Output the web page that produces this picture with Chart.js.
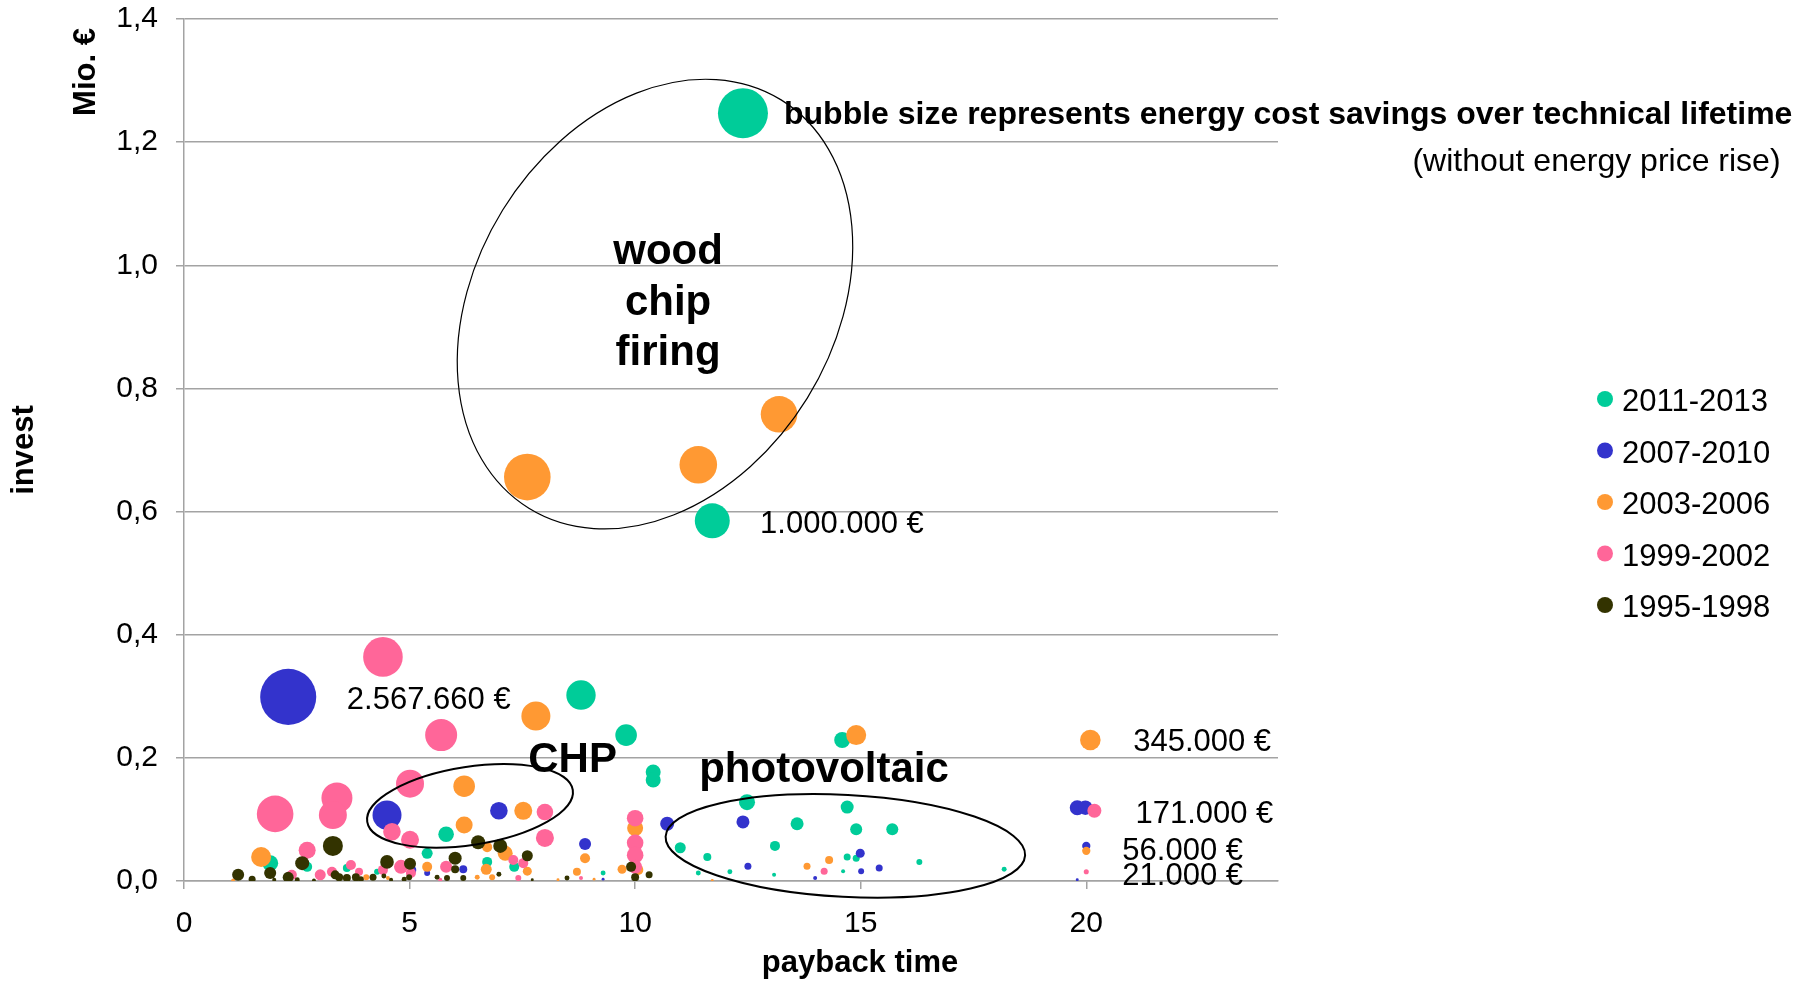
<!DOCTYPE html>
<html>
<head>
<meta charset="utf-8">
<script src="https://cdn.jsdelivr.net/npm/chart.js@4.4.0/dist/chart.umd.min.js"></script>
<style>
  html, body { margin: 0; padding: 0; background: #fff; }
  canvas { display: block; }
</style>
</head>
<body>
<canvas id="bubbleChart" width="1812" height="981"></canvas>
<script>
// construction periods
const seriesLabels = ['2011-2013', '2007-2010', '2003-2006', '1999-2002', '1995-1998'];
const seriesColors = ['#00cc99', '#3333cc', '#ff9933', '#ff6699', '#333300'];

// payback time in years, invest in Mio. €, energy cost savings in k€ (bubble size)
const payback2011 = [12.39, 11.71, 8.80, 9.80, 14.59, 10.40, 10.40, 12.48, 14.70, 13.59, 14.90, 15.70, 5.81, 11.00, 13.10, 11.60, 14.70, 14.90, 5.39, 1.91, 2.73, 6.72, 7.32, 3.61, 4.28, 16.30, 18.18, 11.40, 12.10, 13.08, 14.61, 9.29];
const invest2011  = [1.247, 0.585, 0.302, 0.237, 0.229, 0.177, 0.164, 0.128, 0.120, 0.093, 0.084, 0.084, 0.076, 0.054, 0.057, 0.039, 0.039, 0.037, 0.045, 0.029, 0.023, 0.031, 0.023, 0.021, 0.015, 0.031, 0.019, 0.013, 0.015, 0.010, 0.016, 0.013];
const savings2011 = [2041, 1000, 705, 381, 209, 184, 184, 209, 138, 138, 118, 118, 199, 99, 82, 52, 40, 40, 99, 209, 82, 82, 82, 52, 29, 29, 20, 20, 20, 13, 13, 20];

const payback2007 = [2.31, 4.50, 6.98, 8.89, 10.71, 12.39, 12.50, 14.99, 15.01, 15.41, 13.99, 19.80, 19.98, 20.00, 19.80, 6.19, 5.06, 5.39, 9.29];
const invest2007  = [0.299, 0.107, 0.114, 0.060, 0.093, 0.096, 0.024, 0.045, 0.016, 0.021, 0.005, 0.119, 0.119, 0.057, 0.002, 0.019, 0.018, 0.013, 0.003];
const savings2007 = [2567.66, 687, 253, 118, 160, 138, 40, 66, 29, 40, 13, 184, 171, 56, 7, 52, 52, 29, 7];

const payback2003 = [7.61, 11.40, 13.19, 7.80, 14.90, 20.09, 6.21, 7.52, 6.21, 1.71, 6.72, 7.12, 8.89, 5.39, 6.70, 7.61, 8.71, 10.00, 9.71, 10.07, 13.81, 14.30, 20.00, 4.04, 4.52, 6.83, 6.50, 1.09, 9.09, 8.29, 11.71];
const invest2003  = [0.656, 0.676, 0.758, 0.268, 0.237, 0.229, 0.154, 0.114, 0.091, 0.039, 0.055, 0.045, 0.037, 0.023, 0.019, 0.016, 0.015, 0.086, 0.019, 0.018, 0.024, 0.034, 0.049, 0.006, 0.005, 0.006, 0.006, 0.001, 0.003, 0.002, 0.001];
const savings2003 = [1773, 1154, 1094, 687, 327, 345, 381, 265, 236, 327, 82, 184, 82, 82, 99, 66, 52, 209, 66, 82, 40, 52, 56, 29, 13, 29, 20, 13, 7, 7, 7];

const payback1999 = [4.41, 5.70, 5.01, 3.39, 3.30, 2.02, 4.61, 8.00, 8.00, 5.01, 2.73, 4.81, 5.03, 5.81, 7.30, 7.52, 7.41, 10.00, 10.00, 10.00, 10.00, 20.18, 20.00, 14.19, 2.39, 3.02, 3.28, 3.70, 3.88, 4.41, 8.80, 5.68];
const invest1999  = [0.364, 0.237, 0.158, 0.135, 0.107, 0.109, 0.080, 0.112, 0.070, 0.067, 0.050, 0.023, 0.013, 0.023, 0.034, 0.029, 0.005, 0.102, 0.062, 0.042, 0.023, 0.114, 0.015, 0.016, 0.010, 0.010, 0.015, 0.026, 0.015, 0.018, 0.005, 0.002];
const savings1999 = [1280, 836, 640, 784, 640, 1094, 253, 225, 265, 265, 236, 160, 82, 118, 82, 82, 29, 225, 225, 225, 160, 160, 21, 40, 82, 99, 82, 82, 52, 82, 13, 13];

const payback1995 = [3.30, 6.52, 7.01, 2.62, 4.50, 5.01, 6.01, 7.61, 1.20, 1.51, 1.91, 2.00, 2.31, 2.51, 2.88, 3.35, 3.44, 3.61, 3.81, 3.92, 4.19, 4.43, 4.59, 4.88, 4.99, 6.01, 6.19, 5.83, 5.61, 6.98, 7.72, 8.49, 9.91, 10.00, 10.31];
const invest1995  = [0.057, 0.063, 0.057, 0.029, 0.031, 0.028, 0.037, 0.041, 0.010, 0.003, 0.013, 0.002, 0.006, 0.002, 0.001, 0.010, 0.006, 0.005, 0.006, 0.003, 0.006, 0.008, 0.002, 0.003, 0.006, 0.019, 0.005, 0.005, 0.006, 0.011, 0.002, 0.005, 0.023, 0.006, 0.010];
const savings1995 = [327, 160, 160, 160, 151, 118, 138, 99, 118, 40, 118, 13, 99, 20, 13, 66, 52, 52, 52, 29, 40, 20, 13, 20, 29, 52, 29, 29, 20, 20, 7, 20, 82, 52, 40];

const yTicks = [0, 0.2, 0.4, 0.6, 0.8, 1.0, 1.2, 1.4];
const xTicks = [0, 5, 10, 15, 20];

const FONT = "'Liberation Sans', Arial, sans-serif";

// bubble area proportional to savings (1.000.000 € -> radius 17.5 px)
function bubbleR(s) {
  return 17.5 * Math.sqrt(s / 1000);
}

function buildPoints(xs, ys, ss) {
  return xs.map((v, i) => ({ x: v, y: ys[i], r: bubbleR(ss[i]) }));
}

const allSeries = [
  buildPoints(payback2011, invest2011, savings2011),
  buildPoints(payback2007, invest2007, savings2007),
  buildPoints(payback2003, invest2003, savings2003),
  buildPoints(payback1999, invest1999, savings1999),
  buildPoints(payback1995, invest1995, savings1995)
];

const datasets = allSeries.map((pts, i) => ({
  label: seriesLabels[i],
  data: pts,
  backgroundColor: seriesColors[i],
  borderWidth: 0,
  hoverBorderWidth: 0,
  clip: 0,
  order: seriesLabels.length - i // older periods painted on top
}));

// ellipses, free text, legend and titles that Excel had on the slide
const overlayPlugin = {
  id: 'overlay',
  afterDraw(chart, args, opts) {
    const { ctx } = chart;
    const xs = chart.scales.x, ys = chart.scales.y;
    const dy = opts.textShift; // 'middle' sits a bit above the visual centre of the glyphs
    ctx.save();

    ctx.strokeStyle = '#000';
    opts.ellipses.forEach(e => {
      ctx.beginPath();
      ctx.lineWidth = e.lineWidth;
      ctx.ellipse(xs.getPixelForValue(e.x), ys.getPixelForValue(e.y), e.rx, e.ry,
        e.angle * Math.PI / 180, 0, Math.PI * 2);
      ctx.stroke();
    });

    ctx.fillStyle = '#000';
    ctx.textBaseline = 'middle';
    opts.labels.forEach(t => {
      ctx.font = t.font;
      ctx.textAlign = t.align || 'left';
      ctx.fillText(t.text, xs.getPixelForValue(t.x), ys.getPixelForValue(t.y) + dy);
    });

    // legend
    const lg = opts.legend;
    chart.data.datasets.forEach((ds, i) => {
      const cy = lg.top + i * lg.step;
      ctx.beginPath();
      ctx.fillStyle = ds.backgroundColor;
      ctx.arc(lg.x, cy, lg.r, 0, Math.PI * 2);
      ctx.fill();
      ctx.fillStyle = '#000';
      ctx.font = '31px ' + FONT;
      ctx.textAlign = 'left';
      ctx.fillText(ds.label, lg.x + 17, cy + dy);
    });

    // axis titles
    ctx.font = 'bold 31px ' + FONT;
    ctx.textAlign = 'center';
    ctx.fillText('payback time', opts.xTitle.x, opts.xTitle.y);
    ctx.translate(opts.unit.x, opts.unit.y);
    ctx.rotate(-Math.PI / 2);
    ctx.fillText('Mio. €', 0, 0);

    ctx.restore();
  }
};

const ctx = document.getElementById('bubbleChart').getContext('2d');
new Chart(ctx, {
  type: 'bubble',
  data: { datasets: datasets },
  options: {
    responsive: false,
    animation: false,
    layout: { autoPadding: false, padding: { top: 19, right: 534, left: 0, bottom: 0 } },
    plugins: {
      legend: { display: false },
      tooltip: { enabled: false },
      overlay: {
        textShift: 3.5,
        ellipses: [
          { x: 10.44, y: 0.937, rx: 240, ry: 179, angle: -58.3, lineWidth: 1.2 },
          { x: 6.34, y: 0.122, rx: 104, ry: 39, angle: -8.8, lineWidth: 2 },
          { x: 14.66, y: 0.057, rx: 180, ry: 51, angle: 3, lineWidth: 2 }
        ],
        labels: [
          { text: 'wood', x: 10.73, y: 1.026, font: 'bold 42px ' + FONT, align: 'center' },
          { text: 'chip', x: 10.73, y: 0.943, font: 'bold 42px ' + FONT, align: 'center' },
          { text: 'firing', x: 10.73, y: 0.862, font: 'bold 42px ' + FONT, align: 'center' },
          { text: 'CHP', x: 7.63, y: 0.201, font: 'bold 42px ' + FONT },
          { text: 'photovoltaic', x: 11.42, y: 0.185, font: 'bold 42px ' + FONT },
          { text: 'bubble size represents energy cost savings over technical lifetime', x: 13.30, y: 1.249, font: 'bold 32px ' + FONT },
          { text: '(without energy price rise)', x: 35.39, y: 1.173, font: '32px ' + FONT, align: 'right' },
          { text: '1.000.000 €', x: 12.77, y: 0.585, font: '31px ' + FONT },
          { text: '2.567.660 €', x: 3.61, y: 0.299, font: '31px ' + FONT },
          { text: '345.000 €', x: 21.04, y: 0.231, font: '31px ' + FONT },
          { text: '171.000 €', x: 21.09, y: 0.114, font: '31px ' + FONT },
          { text: '56.000 €', x: 20.80, y: 0.054, font: '31px ' + FONT },
          { text: '21.000 €', x: 20.80, y: 0.013, font: '31px ' + FONT }
        ],
        legend: { x: 1605, top: 399, step: 51.5, r: 8 },
        xTitle: { x: 860, y: 963 },
        unit: { x: 86, y: 72 }
      }
    },
    scales: {
      x: {
        type: 'linear',
        min: 0,
        max: 24.25,
        afterFit: s => { s.height = 100; s.paddingLeft = 0; s.paddingRight = 0; },
        afterBuildTicks: s => { s.ticks = xTicks.map(v => ({ value: v })); },
        grid: { drawOnChartArea: false, drawTicks: true, tickLength: 8, color: '#a3a3a3', lineWidth: 1.5 },
        border: { display: true, color: '#a3a3a3', width: 1.5 },
        ticks: { padding: 17, color: '#000', font: { family: FONT, size: 30 }, maxRotation: 0 }
      },
      y: {
        type: 'linear',
        min: 0,
        max: 1.4,
        afterFit: s => { s.width = 184; s.paddingTop = 0; s.paddingBottom = 0; },
        afterBuildTicks: s => { s.ticks = yTicks.map(v => ({ value: v })); },
        grid: { drawOnChartArea: true, drawTicks: true, tickLength: 8, color: '#a3a3a3', lineWidth: 1.5 },
        border: { display: true, color: '#a3a3a3', width: 1.5 },
        ticks: {
          padding: 18,
          color: '#000',
          font: { family: FONT, size: 30 },
          callback: v => v.toFixed(1).replace('.', ',')
        },
        title: {
          display: true,
          text: 'invest',
          color: '#000',
          font: { family: FONT, size: 31, weight: 'bold' },
          padding: { top: 6, bottom: 0 }
        }
      }
    }
  },
  plugins: [overlayPlugin]
});
</script>
</body>
</html>
